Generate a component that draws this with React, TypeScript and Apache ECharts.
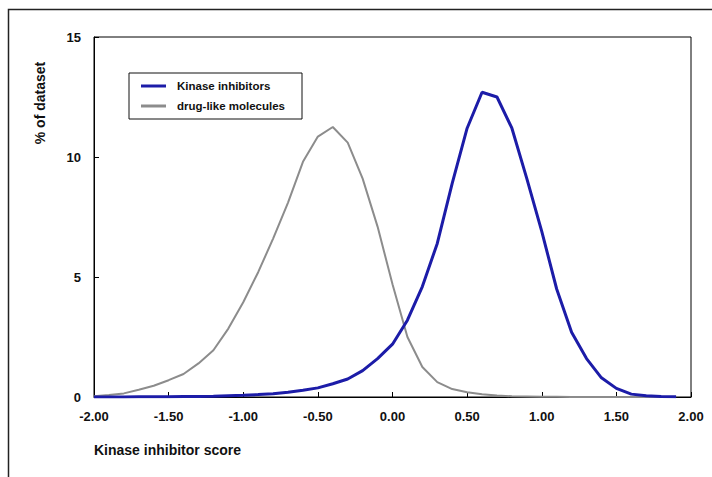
import React, { useEffect, useRef } from "react";
import * as echarts from "echarts";

const scores = [
  -2.0, -1.9, -1.8, -1.7, -1.6, -1.5, -1.4, -1.3, -1.2, -1.1,
  -1.0, -0.9, -0.8, -0.7, -0.6, -0.5, -0.4, -0.3, -0.2, -0.1,
  0.0, 0.1, 0.2, 0.3, 0.4, 0.5, 0.6, 0.7, 0.8, 0.9,
  1.0, 1.1, 1.2, 1.3, 1.4, 1.5, 1.6, 1.7, 1.8, 1.9,
];

const kinaseInhibitors = [
  0.0, 0.0, 0.0, 0.01, 0.01, 0.01, 0.02, 0.02, 0.03, 0.05,
  0.07, 0.1, 0.14, 0.2, 0.28, 0.38, 0.55, 0.75, 1.1, 1.6,
  2.2, 3.2, 4.6, 6.4, 8.9, 11.2, 12.7, 12.5, 11.2, 9.1,
  6.9, 4.5, 2.7, 1.6, 0.8, 0.36, 0.12, 0.05, 0.02, 0.01,
];

const drugLikeMolecules = [
  0.03, 0.08, 0.15, 0.3, 0.47, 0.7, 0.96, 1.4, 1.95, 2.85,
  3.95, 5.2, 6.6, 8.1, 9.8, 10.85, 11.25, 10.6, 9.1, 7.1,
  4.7, 2.5, 1.25, 0.62, 0.33, 0.2, 0.11, 0.06, 0.03, 0.02,
  0.01, 0.01, 0.0, 0.0, 0.0, 0.0, 0.0, 0.0, 0.0, 0.0,
];

const seriesNames = ["Kinase inhibitors", "drug-like molecules"];
const xTitle = "Kinase inhibitor score";
const yTitle = "% of dataset";

const FONT = "'Liberation Sans', Arial, sans-serif";
const BLUE = "#1c1ca8";
const GREY = "#8c8c8c";

export default function App() {
  const ref = useRef<HTMLDivElement>(null);

  useEffect(() => {
    if (!ref.current) return;
    const chart = echarts.init(ref.current, null, { renderer: "svg" });
    const pairs = (ys: number[]) => scores.map((x, i) => [x, ys[i]]);

    chart.setOption({
      animation: false,
      backgroundColor: "#ffffff",
      textStyle: { fontFamily: FONT },
      grid: {
        left: 94,
        top: 37,
        width: 597,
        height: 360,
        show: true,
        borderColor: "#000",
        borderWidth: 1,
        backgroundColor: "transparent",
        containLabel: false,
        outerBoundsMode: "none",
      },
      legend: {
        show: true,
        orient: "vertical",
        left: 129,
        top: 73,
        borderColor: "#111",
        borderWidth: 1,
        padding: [7, 17, 7, 12],
        itemWidth: 25,
        itemHeight: 3,
        itemGap: 8,
        icon: "rect",
        textStyle: {
          fontFamily: FONT,
          fontSize: 11.5,
          fontWeight: "bold",
          color: "#111",
          padding: [0, 0, 0, 6],
        },
        data: [
          { name: seriesNames[0], icon: "rect", itemStyle: { color: BLUE } },
          { name: seriesNames[1], icon: "rect", itemStyle: { color: GREY } },
        ],
      },
      xAxis: {
        type: "value",
        min: -2,
        max: 2,
        interval: 0.5,
        axisLine: { show: true, onZero: false, lineStyle: { color: "#000", width: 1 } },
        axisTick: { show: true, inside: true, length: 5, lineStyle: { color: "#000" } },
        splitLine: { show: false },
        axisLabel: {
          margin: 13,
          fontFamily: FONT,
          fontSize: 13,
          fontWeight: "bold",
          color: "#111",
          formatter: (v: number) => v.toFixed(2),
        },
      },
      yAxis: {
        type: "value",
        min: 0,
        max: 15,
        interval: 5,
        axisLine: { show: true, onZero: false, lineStyle: { color: "#000", width: 1 } },
        axisTick: { show: true, inside: true, length: 5, lineStyle: { color: "#000" } },
        splitLine: { show: false },
        axisLabel: {
          margin: 13,
          fontFamily: FONT,
          fontSize: 13,
          fontWeight: "bold",
          color: "#111",
        },
      },
      series: [
        {
          name: seriesNames[0],
          type: "line",
          data: pairs(kinaseInhibitors),
          symbol: "none",
          showSymbol: false,
          smooth: false,
          z: 3,
          itemStyle: { color: BLUE },
          lineStyle: { color: BLUE, width: 3 },
        },
        {
          name: seriesNames[1],
          type: "line",
          data: pairs(drugLikeMolecules),
          symbol: "none",
          showSymbol: false,
          smooth: false,
          z: 2,
          itemStyle: { color: GREY },
          lineStyle: { color: GREY, width: 2 },
        },
      ],
      graphic: [
        {
          type: "rect",
          shape: { x: 8.5, y: 9.5, width: 900, height: 700 },
          style: { fill: "none", stroke: "#222", lineWidth: 1.5 },
          silent: true,
          z: 0,
        },
        {
          type: "text",
          x: 40,
          y: 103,
          rotation: Math.PI / 2,
          style: {
            text: yTitle,
            fontFamily: FONT,
            fontSize: 14,
            fontWeight: "bold",
            fill: "#111",
            align: "center",
            verticalAlign: "middle",
          },
        },
        {
          type: "text",
          x: 94,
          y: 450,
          style: {
            text: xTitle,
            fontFamily: FONT,
            fontSize: 14,
            fontWeight: "bold",
            fill: "#111",
            align: "left",
            verticalAlign: "middle",
          },
        },
      ],
    });

    return () => chart.dispose();
  }, []);

  return (
    <div
      ref={ref}
      style={{ position: "absolute", left: 0, top: 0, width: 712, height: 477 }}
    />
  );
}
